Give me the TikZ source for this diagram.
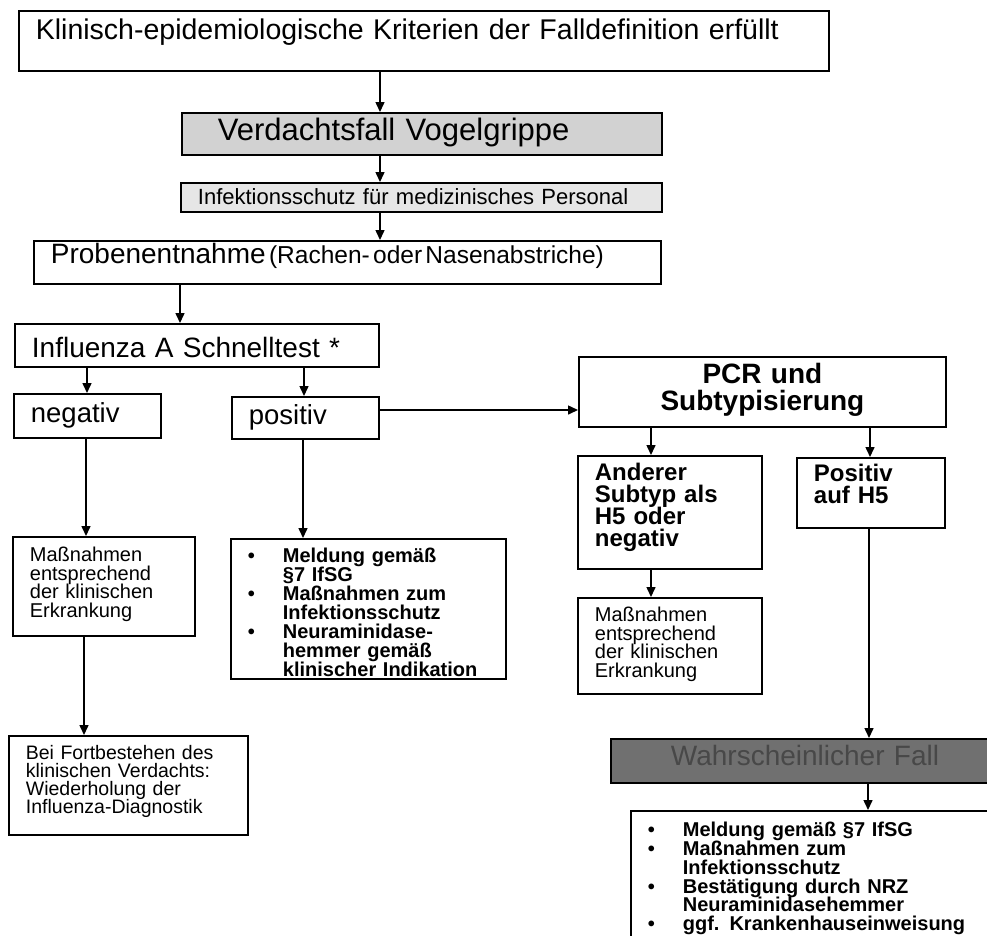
\documentclass[tikz,border=0pt]{standalone}
\usepackage{fontspec}
\setmainfont{Liberation Sans}
\usetikzlibrary{arrows.meta}

\definecolor{verdgrau}{HTML}{D2D2D2}
\definecolor{schutzgrau}{HTML}{E6E6E6}
\definecolor{fallgrau}{HTML}{707070}
\definecolor{falltext}{HTML}{484848}

\newcommand{\gross}{\fontsize{28}{32}\selectfont}
\newcommand{\mittel}{\bfseries\fontsize{24}{22}\selectfont\lineskiplimit=-20pt}
\newcommand{\klein}{\fontsize{20}{18.5}\selectfont\lineskiplimit=-20pt}
\newcommand{\kleiner}{\fontsize{19.5}{18}\selectfont\lineskiplimit=-20pt}
\newcommand{\kleinfett}{\bfseries\fontsize{20}{19}\selectfont\lineskiplimit=-20pt}
\newcommand{\listefett}{\bfseries\fontsize{20}{18.7}\selectfont\lineskiplimit=-20pt}
\newcommand{\punkt}{\makebox[35pt][l]{\textbullet}}
\newcommand{\einr}{\hspace*{35pt}}

\tikzset{
  box/.style={draw, line width=1.8pt, anchor=north west, align=left,
    inner xsep=17pt, inner ysep=0pt},
  arr/.style={line width=1.5pt, -{Triangle[length=10pt,width=9pt]}},
}

\begin{document}
\begin{tikzpicture}[x=1pt,y=-1pt]
  \path[use as bounding box] (0,0) rectangle (987,935);
  \clip (0,0) rectangle (987,935);

  % obere Kette
  \node[box, text width=776pt, text height=29pt, text depth=31pt, font=\fontsize{28.5}{32}\selectfont]
    (krit) at (18,10) {Klinisch-epidemiologische Kriterien der Falldefinition erfüllt};
  \node[box, fill=verdgrau, inner xsep=36pt, text width=408pt, text height=28pt, text depth=14pt,
    font=\fontsize{31}{34}\selectfont] (verd) at (181,112) {Verdachtsfall Vogelgrippe};
  \node[box, fill=schutzgrau, text width=447pt, text height=22pt, text depth=7pt,
    font=\fontsize{22}{25}\selectfont] (schutz) at (180,182) {Infektionsschutz für medizinisches Personal};
  \node[box, text width=593pt, text height=23pt, text depth=20pt] (probe) at (33,240)
    {{\gross Probenentnahme} {\fontsize{24.5}{28}\selectfont(Rachen- oder Nasenabstriche)}};
  \node[box, text width=330pt, text height=34pt, text depth=9pt, font=\gross]
    (schnell) at (14,323) {Influenza A Schnelltest *};

  % Schnelltest
  \node[box, text width=113pt, text height=29pt, text depth=15pt, font=\fontsize{27.5}{30}\selectfont]
    (neg) at (13,393) {negativ};
  \node[box, text width=113pt, text height=28pt, text depth=14pt, font=\fontsize{27.5}{30}\selectfont]
    (pos) at (231,396) {positiv};
  \node[box, text width=148pt, text height=25pt, text depth=74pt, font=\klein]
    (massL) at (12,536) {Maßnahmen\\entsprechend\\der klinischen\\Erkrankung};
  \node[box, text width=205pt, text height=24pt, text depth=75pt, font=\kleiner]
    (fort) at (8,735) {Bei Fortbestehen des\\klinischen Verdachts:\\Wiederholung der\\Influenza-Diagnostik};
  \node[box, text width=241pt, text height=24pt, text depth=116pt, font=\kleinfett]
    (meld) at (230,538) {\punkt Meldung gemäß\\\einr §7 IfSG\\\punkt Maßnahmen zum\\\einr Infektionsschutz\\
      \punkt Neuraminidase-\\\einr hemmer gemäß\\\einr klinischer Indikation};

  % PCR
  \node[box, align=center, text width=333pt, text height=27pt, text depth=43pt,
    font=\bfseries\fontsize{28}{27}\selectfont] (pcr) at (578,356) {PCR und\\Subtypisierung};
  \node[box, text width=150pt, text height=25pt, text depth=88pt, font=\mittel]
    (anders) at (577,455) {Anderer\\Subtyp als\\H5 oder\\negativ};
  \node[box, text width=114pt, text height=24pt, text depth=46pt, font=\mittel]
    (h5) at (796,457) {Positiv\\auf H5};
  \node[box, text width=150pt, text height=24pt, text depth=72pt, font=\klein]
    (massR) at (577,597) {Maßnahmen\\entsprechend\\der klinischen\\Erkrankung};
  \node[box, fill=fallgrau, text=falltext, inner xsep=60pt, text width=330pt, text height=27pt,
    text depth=17pt, font=\gross] (wahr) at (610,738) {Wahrscheinlicher Fall};
  \node[box, text width=330pt, text height=26pt, text depth=124pt, font=\listefett]
    (final) at (630,810) {\punkt Meldung gemäß §7 IfSG\\\punkt Maßnahmen zum\\\einr Infektionsschutz\\
      \punkt Bestätigung durch NRZ\\\einr Neuraminidasehemmer\\\punkt ggf. Krankenhauseinweisung};

  % Pfeile
  \draw[arr] (krit.south -| 380,0) -- (verd.north -| 380,0);
  \draw[arr] (verd.south -| 380,0) -- (schutz.north -| 380,0);
  \draw[arr] (schutz.south -| 380,0) -- (probe.north -| 380,0);
  \draw[arr] (probe.south -| 180,0) -- (schnell.north -| 180,0);
  \draw[arr] (schnell.south -| 87,0) -- (neg.north -| 87,0);
  \draw[arr] (schnell.south -| 304,0) -- (pos.north -| 304,0);
  \draw[arr] (pos.east |- 0,410) -- (pcr.west |- 0,410);
  \draw[arr] (pcr.south -| 651,0) -- (anders.north -| 651,0);
  \draw[arr] (pcr.south -| 870,0) -- (h5.north -| 870,0);
  \draw[arr] (anders.south -| 651,0) -- (massR.north -| 651,0);
  \draw[arr] (neg.south -| 86,0) -- (massL.north -| 86,0);
  \draw[arr] (massL.south -| 84,0) -- (fort.north -| 84,0);
  \draw[arr] (pos.south -| 303,0) -- (meld.north -| 303,0);
  \draw[arr] (h5.south -| 869,0) -- (wahr.north -| 869,0);
  \draw[arr] (wahr.south -| 868,0) -- (final.north -| 868,0);
\end{tikzpicture}
\end{document}
